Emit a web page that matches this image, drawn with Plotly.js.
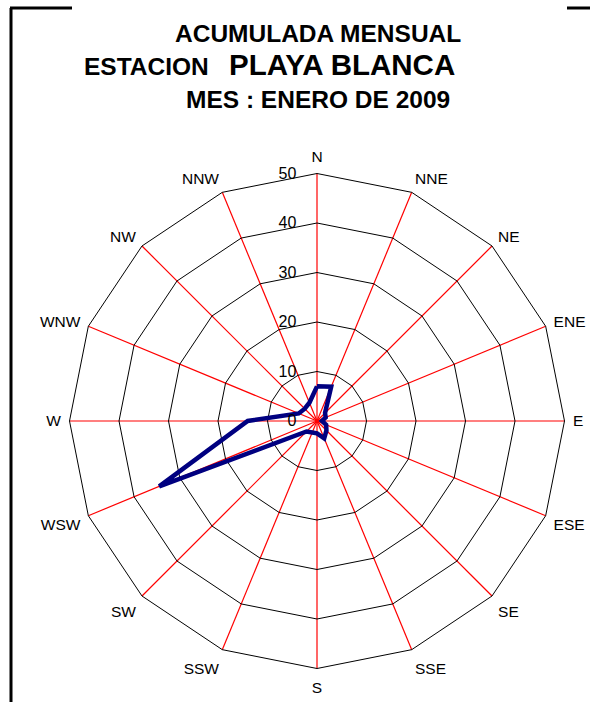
<!DOCTYPE html>
<html>
<head>
<meta charset="utf-8">
<script src="https://cdn.plot.ly/plotly-3.0.1.min.js"></script>
<style>html,body{margin:0;padding:0;background:#fff;}#chart{width:590px;height:702px;}</style>
</head>
<body>
<div id="chart"></div>
<script>
var directions = ['N','NNE','NE','ENE','E','ESE','SE','SSE','S','SSW','SW','WSW','W','WNW','NW','NNW'];
var values = [7, 7.5, 2.3, 1.9, 1, 2, 2.7, 3.8, 2.5, 2.5, 3, 34.5, 14, 4, 3.5, 4];
var radialTicks = [0, 10, 20, 30, 40, 50];
var titleLine1 = 'ACUMULADA MENSUAL';
var titleLine2a = 'ESTACION';
var titleLine2b = 'PLAYA BLANCA';
var titleLine3 = 'MES : ENERO DE 2009';

var theta = directions.concat([directions[0]]);
var r = values.concat([values[0]]);

var W = 590, H = 702;
var cx = 317, cy = 421, R = 247.5;
function px(x){return x/W;}
function py(y){return 1 - y/H;}

var pad = '\u00a0\u00a0\u00a0\u00a0';

var trace = {
  type: 'scatterpolar',
  mode: 'lines',
  r: r,
  theta: theta,
  line: {color: '#000080', width: 4.5},
  hoverinfo: 'none',
  showlegend: false
};

var font = 'Liberation Sans, Arial, sans-serif';
var layout = {
  width: W, height: H,
  margin: {l: 0, r: 0, t: 0, b: 0},
  paper_bgcolor: '#ffffff',
  showlegend: false,
  font: {family: font, color: '#000', size: 14},
  polar: {
    domain: {x: [px(cx - R), px(cx + R)], y: [py(cy + R), py(cy - R)]},
    bgcolor: 'rgba(0,0,0,0)',
    gridshape: 'linear',
    radialaxis: {
      range: [0, 50],
      tickvals: radialTicks,
      ticktext: radialTicks.map(function(v){ return String(v) + pad; }),
      angle: 90,
      tickangle: 90,
      side: 'counterclockwise',
      showline: false,
      ticks: '',
      gridcolor: '#000000',
      gridwidth: 1,
      tickfont: {family: font, size: 16, color: '#000'}
    },
    angularaxis: {
      type: 'category',
      categoryarray: directions,
      direction: 'clockwise',
      rotation: 90,
      showline: true,
      linecolor: '#000000',
      linewidth: 1,
      gridcolor: '#ff0000',
      gridwidth: 1.2,
      ticks: 'outside',
      ticklen: 5,
      tickcolor: 'rgba(0,0,0,0)',
      tickfont: {family: font, size: 15.5, color: '#000'}
    }
  },
  shapes: [
    {type: 'line', xref: 'paper', yref: 'paper', x0: px(11), x1: px(11), y0: py(8), y1: py(702), line: {color: '#000', width: 3}},
    {type: 'line', xref: 'paper', yref: 'paper', x0: px(10), x1: px(72), y0: py(8), y1: py(8), line: {color: '#000', width: 3}},
    {type: 'line', xref: 'paper', yref: 'paper', x0: px(567), x1: px(590), y0: py(8), y1: py(8), line: {color: '#000', width: 3}}
  ],
  annotations: [
    {text: '<b>' + titleLine1 + '</b>', xref: 'paper', yref: 'paper', x: px(317.5), y: py(34), xanchor: 'center', yanchor: 'middle', showarrow: false, font: {family: font, size: 24.5, color: '#000'}},
    {text: '<b>' + titleLine2a + '</b>', xref: 'paper', yref: 'paper', x: px(82), y: py(66), xanchor: 'left', yanchor: 'middle', showarrow: false, font: {family: font, size: 24.5, color: '#000'}},
    {text: '<b>' + titleLine2b + '</b>', xref: 'paper', yref: 'paper', x: px(227), y: py(64), xanchor: 'left', yanchor: 'middle', showarrow: false, font: {family: font, size: 29.5, color: '#000'}},
    {text: '<b>' + titleLine3 + '</b>', xref: 'paper', yref: 'paper', x: px(317.5), y: py(100), xanchor: 'center', yanchor: 'middle', showarrow: false, font: {family: font, size: 24.5, color: '#000'}}
  ]
};

Plotly.newPlot('chart', [trace], layout, {displayModeBar: false, staticPlot: true});
</script>
</body>
</html>
